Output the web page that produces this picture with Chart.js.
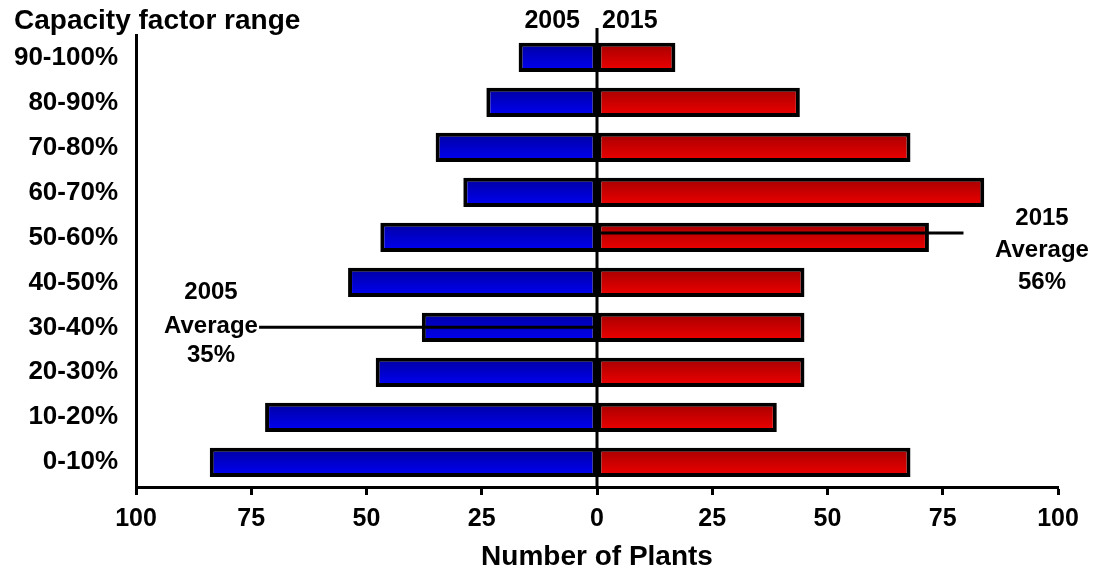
<!DOCTYPE html>
<html>
<head>
<meta charset="utf-8">
<title>Capacity factor range</title>
<script src="https://cdn.jsdelivr.net/npm/chart.js@4.4.1/dist/chart.umd.min.js"></script>
<style>
  html, body { margin: 0; padding: 0; background: #fff; }
  #wrap { width: 1101px; height: 574px; position: relative; }
</style>
</head>
<body>
<div id="wrap"><canvas id="plantsChart"></canvas></div>
<script>
// Capacity factor bands, top to bottom
const categories = ['90-100%', '80-90%', '70-80%', '60-70%', '50-60%', '40-50%', '30-40%', '20-30%', '10-20%', '0-10%'];
// Number of plants in each band
const plants2005 = [17, 24, 35, 29, 47, 54, 38, 48, 72, 84];
const plants2015 = [17, 44, 68, 84, 72, 45, 45, 45, 39, 68];
// Fleet averages (%)
const avg2005 = 35;
const avg2015 = 56;
// x axis tick values
const xTicks = [-100, -75, -50, -25, 0, 25, 50, 75, 100];

const FONT = '"Liberation Sans", Arial, Helvetica, sans-serif';
const BAR_PCT = 0.65;

Chart.defaults.font.family = FONT;
Chart.defaults.font.weight = 'bold';
Chart.defaults.color = '#000';

// vertical gradient per bar: darker on top, brighter underneath
function barFill(topColor, bottomColor) {
  return (ctx) => {
    const chart = ctx.chart;
    if (!chart.chartArea || ctx.type !== 'data') return bottomColor;
    const y = chart.scales.y;
    const cy = y.getPixelForValue(ctx.dataIndex);
    const half = Math.abs(y.getPixelForValue(1) - y.getPixelForValue(0)) * BAR_PCT / 2;
    const g = chart.ctx.createLinearGradient(0, cy - half, 0, cy + half);
    g.addColorStop(0, topColor);
    g.addColorStop(1, bottomColor);
    return g;
  };
}

// percent -> position on the band axis (band centres sit at 95, 85, ... 5)
const pctToIndex = (p) => (95 - p) / 10;

const overlay = {
  id: 'overlay',
  afterDatasetsDraw(chart) {
    const { ctx, chartArea, scales: { x, y } } = chart;
    const x0 = x.getPixelForValue(0);
    ctx.save();
    ctx.strokeStyle = '#000';
    ctx.lineWidth = 3;

    // zero line, running up between the year headers
    ctx.beginPath();
    ctx.moveTo(x0, chartArea.top - 7);
    ctx.lineTo(x0, chartArea.bottom);
    ctx.stroke();

    // average markers
    const y05 = y.getPixelForValue(pctToIndex(avg2005));
    ctx.beginPath();
    ctx.moveTo(x0, y05);
    ctx.lineTo(x.getPixelForValue(-73.3), y05);
    ctx.stroke();

    const y15 = y.getPixelForValue(pctToIndex(avg2015));
    ctx.beginPath();
    ctx.moveTo(x0, y15);
    ctx.lineTo(x.getPixelForValue(79.5), y15);
    ctx.stroke();

    ctx.fillStyle = '#000';
    ctx.textBaseline = 'middle';
    ctx.textAlign = 'center';
    ctx.font = 'bold 24px ' + FONT;
    ['2005', 'Average', avg2005 + '%'].forEach((t, i) => ctx.fillText(t, 211, [292, 326, 355][i]));
    ['2015', 'Average', avg2015 + '%'].forEach((t, i) => ctx.fillText(t, 1042, [218, 250, 282][i]));

    // headers
    ctx.font = 'bold 25px ' + FONT;
    ctx.textAlign = 'right';
    ctx.fillText('2005', x0 - 17, 21);
    ctx.textAlign = 'left';
    ctx.fillText('2015', x0 + 5, 21);

    ctx.font = 'bold 28px ' + FONT;
    ctx.fillText('Capacity factor range', 14, 21);
    ctx.restore();
  }
};

new Chart(document.getElementById('plantsChart'), {
  type: 'bar',
  data: {
    datasets: [{
      label: '2005',
      data: plants2005.map((v, i) => ({ x: -v, y: i })),
      backgroundColor: barFill('#0000a0', '#0000f6'),
      borderColor: '#000',
      borderWidth: 4,
      borderSkipped: false,
      barPercentage: BAR_PCT,
      categoryPercentage: 1
    }, {
      label: '2015',
      data: plants2015.map((v, i) => ({ x: v, y: i })),
      backgroundColor: barFill('#a40000', '#f20000'),
      borderColor: '#000',
      borderWidth: 4,
      borderSkipped: false,
      barPercentage: BAR_PCT,
      categoryPercentage: 1
    }]
  },
  options: {
    indexAxis: 'y',
    responsive: true,
    maintainAspectRatio: false,
    animation: false,
    layout: { padding: { top: 35, right: 43, bottom: 0, left: 0 } },
    plugins: {
      legend: { display: false },
      tooltip: { enabled: false }
    },
    scales: {
      x: {
        type: 'linear',
        stacked: true,
        min: -100,
        max: 100,
        afterBuildTicks: (s) => { s.ticks = xTicks.map(v => ({ value: v })); },
        afterFit: (s) => { s.height = 87; },
        ticks: {
          callback: (v) => Math.abs(v),
          font: { size: 25, weight: 'bold' },
          padding: 9,
          maxRotation: 0
        },
        grid: {
          drawOnChartArea: false,
          drawTicks: true,
          tickLength: 8,
          tickWidth: 3,
          tickColor: '#000'
        },
        border: { display: true, color: '#000', width: 3 },
        title: {
          display: true,
          text: 'Number of Plants',
          font: { size: 28, weight: 'bold' },
          padding: { top: 0, bottom: 0 }
        }
      },
      y: {
        type: 'linear',
        stacked: true,
        reverse: true,
        offset: false,
        min: -0.5,
        max: 9.55,
        afterBuildTicks: (s) => { s.ticks = categories.map((_, i) => ({ value: i })); },
        afterFit: (s) => { s.width = 136; },
        ticks: {
          callback: (v) => categories[v],
          font: { size: 26, weight: 'bold' },
          padding: 18
        },
        grid: { display: false, drawTicks: false },
        border: { display: true, color: '#000', width: 3 }
      }
    }
  },
  plugins: [overlay]
});
</script>
</body>
</html>
